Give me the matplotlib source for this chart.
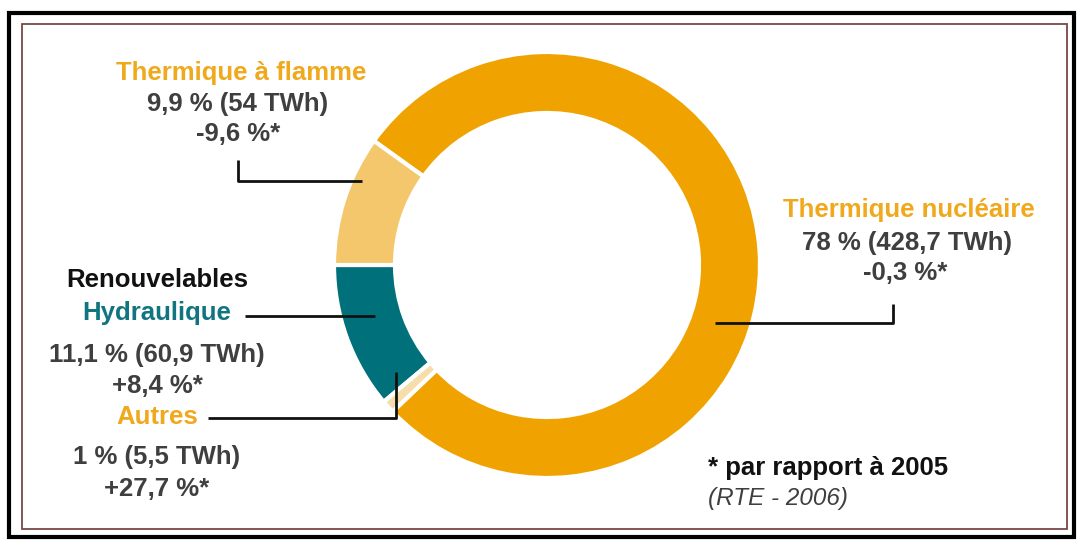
import matplotlib.pyplot as plt
from matplotlib.patches import Rectangle

plt.rcParams['font.family'] = ['Liberation Sans', 'DejaVu Sans']

# parts of production, counterclockwise from the left side
sources = ["Hydraulique", "Autres", "Thermique nucléaire", "Thermique à flamme"]
shares = [11.1, 1.0, 78.0, 9.9]
twh = ["60,9", "5,5", "428,7", "54"]
change = ["+8,4", "+27,7", "-0,3", "-9,6"]
colors = ["#00717B", "#F6DDA9", "#F0A300", "#F5C76C"]

W, H = 1079, 540
orange = "#F0A81C"
grey = "#3F3F3F"
fs = 18.5

fig = plt.figure(figsize=(W/100, H/100), dpi=100)
ax = fig.add_axes([0, 0, 1, 1])

ax.pie(shares, colors=colors, startangle=180, counterclock=True,
       center=(547, H-265), radius=213, frame=True,
       wedgeprops=dict(width=61, edgecolor="white", linewidth=3))
ax.set_xlim(0, W)
ax.set_ylim(0, H)
ax.set_aspect("auto")
ax.axis("off")

# frame
ax.add_patch(Rectangle((9, H-537), 1065, 524, fill=False, edgecolor="black", linewidth=3))
ax.add_patch(Rectangle((22, H-529), 1045, 505, fill=False, edgecolor="#7A4747", linewidth=1.3))

def txt(x, y, s, color=grey, **kw):
    ax.text(x, H-y, s, color=color, fontsize=fs, fontweight="bold",
            ha="center", va="center", **kw)

def line(xs, ys):
    ax.plot(xs, [H-y for y in ys], color="#111111", linewidth=2, solid_capstyle="butt")

# thermique a flamme
txt(241, 73, sources[3], orange)
txt(238, 104, "%s %% (%s TWh)" % ("9,9", twh[3]))
txt(238, 134, "%s %%*" % change[3])
line([238, 238, 362], [160, 181, 181])

# nucleaire
txt(909, 210, sources[2], orange)
txt(907, 243, "%s %% (%s TWh)" % ("78", twh[2]))
txt(905, 273, "%s %%*" % change[2])
line([715, 893, 893], [323, 323, 304])

# renouvelables
txt(157, 280, "Renouvelables", "#111111")
txt(157, 313, sources[0], "#117580")
line([245, 375], [316, 316])
txt(157, 355, "%s %% (%s TWh)" % ("11,1", twh[0]))
txt(157, 386, "%s %%*" % change[0])
txt(157, 417, sources[1], orange)
line([208, 396, 396], [418, 418, 372])
txt(157, 457, "%s %% (%s TWh)" % ("1", twh[1]))
txt(157, 489, "%s %%*" % change[1])

ax.text(708, H-468, "* par rapport à 2005", color="#111111", fontsize=fs,
        fontweight="bold", ha="left", va="center")
ax.text(708, H-498, "(RTE - 2006)", color=grey, fontsize=17.5, style="italic",
        ha="left", va="center")

plt.savefig("out.png", dpi=100)
